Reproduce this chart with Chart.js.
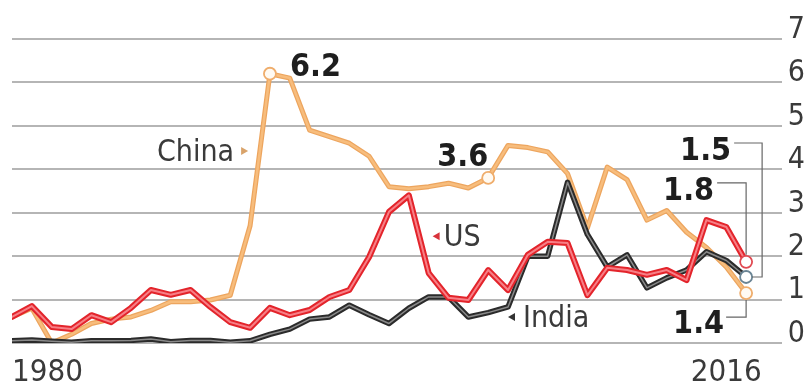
<!DOCTYPE html>
<html>
<head>
<meta charset="utf-8">
<script src="https://cdn.jsdelivr.net/npm/chart.js@4.4.0/dist/chart.umd.min.js"></script>
<style>
  html, body { margin: 0; padding: 0; background: #fff; }
  #wrap { width: 811px; height: 385px; position: relative; }
</style>
</head>
<body>
<div id="wrap"><canvas id="c"></canvas></div>
<script>
// data
const years = [1980, 1981, 1982, 1983, 1984, 1985, 1986, 1987, 1988, 1989,
  1990, 1991, 1992, 1993, 1994, 1995, 1996, 1997, 1998, 1999,
  2000, 2001, 2002, 2003, 2004, 2005, 2006, 2007, 2008, 2009,
  2010, 2011, 2012, 2013, 2014, 2015, 2016, 2017];
const china = [0.6, 0.8, 0.0, 0.2, 0.45, 0.55, 0.6, 0.75, 0.95, 0.95,
  0.99, 1.1, 2.7, 6.2, 6.1, 4.9, 4.75, 4.6, 4.3, 3.6,
  3.55, 3.6, 3.68, 3.57, 3.8, 4.55, 4.5, 4.4, 3.9, 2.65,
  4.05, 3.76, 2.83, 3.05, 2.55, 2.2, 1.75, 1.15];
const us = [0.6, 0.85, 0.37, 0.32, 0.64, 0.48, 0.81, 1.22, 1.11, 1.22,
  0.83, 0.48, 0.35, 0.81, 0.64, 0.76, 1.06, 1.22, 1.98, 3.02,
  3.4, 1.61, 1.04, 0.99, 1.68, 1.22, 2.03, 2.33, 2.3, 1.1,
  1.73, 1.68, 1.57, 1.68, 1.45, 2.83, 2.67, 1.87];
const india = [0.05, 0.07, 0.04, 0.02, 0.05, 0.05, 0.06, 0.09, 0.03, 0.06,
  0.06, 0.02, 0.05, 0.2, 0.32, 0.55, 0.6, 0.87, 0.65, 0.45,
  0.8, 1.06, 1.06, 0.6, 0.7, 0.83, 2.0, 2.0, 3.7, 2.5,
  1.75, 2.03, 1.27, 1.5, 1.68, 2.1, 1.9, 1.52];
const yTicks = [0, 1, 2, 3, 4, 5, 6, 7];
const xTickLabels = [1980, 2016];

// circled points and their callout texts
const chinaMarks = [13, 24, 37];
const usMarks = [37];
const indiaMarks = [37];
const calloutTexts = ['6.2', '3.6', '1.5', '1.8', '1.4'];

const COND = '"DejaVu Sans Condensed", "DejaVu Sans", sans-serif';
const pts = arr => years.map((y, i) => ({ x: y, y: arr[i] }));

function layer(data, color, width, order, marks, ptBorder, ptFill) {
  return {
    data: pts(data), borderColor: color, borderWidth: width, order: order,
    tension: 0, borderJoinStyle: 'round', borderCapStyle: 'round',
    pointRadius: marks ? (ctx => marks.includes(ctx.dataIndex) ? 6 : 0) : 0,
    pointBackgroundColor: ptFill || '#fff', pointBorderColor: ptBorder || color, pointBorderWidth: 1.8,
    pointHoverRadius: 0
  };
}

// text + bracket overlays
const overlay = {
  id: 'overlay',
  afterDraw(chart) {
    const ctx = chart.ctx, xs = chart.scales.x, ys = chart.scales.y, ca = chart.chartArea;
    const P = (i, arr) => ({ x: xs.getPixelForValue(years[i]), y: ys.getPixelForValue(arr[i]) });
    ctx.save();

    // x labels
    ctx.font = '31px ' + COND;
    ctx.fillStyle = '#3a3a3a';
    ctx.textBaseline = 'alphabetic';
    xTickLabels.forEach((yr, i) => {
      ctx.textAlign = i === 0 ? 'left' : 'center';
      ctx.fillText(String(yr), i === 0 ? ca.left : xs.getPixelForValue(yr), 381);
    });

    // series names with small arrows
    const tri = (x, y, dir, col) => {
      ctx.fillStyle = col;
      ctx.beginPath();
      ctx.moveTo(x, y);
      ctx.lineTo(x - dir * 7, y - 4);
      ctx.lineTo(x - dir * 7, y + 4);
      ctx.closePath();
      ctx.fill();
    };
    const lbl = (name, yr, v, dir, col, gap) => {
      const x = xs.getPixelForValue(yr), y = ys.getPixelForValue(v);
      tri(x, y, dir, col);
      ctx.fillStyle = '#3a3a3a';
      ctx.textAlign = dir > 0 ? 'right' : 'left';
      ctx.fillText(name, x - dir * gap, y + 10);
    };
    ctx.font = '30px ' + COND;
    lbl('China', 1991.9, 4.42, 1, '#d9a36a', 14);
    lbl('US', 2001.2, 2.46, -1, '#d8323a', 11);
    lbl('India', 2005.0, 0.6, -1, '#333', 15);

    // bold callouts
    ctx.font = 'bold 32px ' + COND;
    ctx.fillStyle = '#1e1e1e';
    const peak = P(13, china), mid = P(24, china);
    ctx.textAlign = 'left';
    ctx.fillText(calloutTexts[0], peak.x + 20, peak.y + 2);
    ctx.textAlign = 'right';
    ctx.fillText(calloutTexts[1], mid.x, mid.y - 12);

    const ei = P(37, india), eu = P(37, us), ec = P(37, china);
    ctx.fillText(calloutTexts[2], ei.x - 15, ei.y - 117);
    ctx.fillText(calloutTexts[3], eu.x - 32, eu.y - 62);
    ctx.fillText(calloutTexts[4], ec.x - 22, ec.y + 40);

    ctx.strokeStyle = '#666';
    ctx.lineWidth = 1.2;
    const path = p => {
      ctx.beginPath();
      ctx.moveTo(p[0][0], p[0][1]);
      p.slice(1).forEach(q => ctx.lineTo(q[0], q[1]));
      ctx.stroke();
    };
    path([[ei.x - 12, ei.y - 134], [ei.x + 16, ei.y - 134], [ei.x + 16, ei.y], [ei.x + 6, ei.y]]);
    path([[eu.x - 29, eu.y - 79], [eu.x, eu.y - 79], [eu.x, eu.y - 7]]);
    path([[ec.x - 20, ec.y + 24], [ec.x, ec.y + 24], [ec.x, ec.y + 7]]);
    ctx.restore();
  }
};

new Chart(document.getElementById('c'), {
  type: 'line',
  data: {
    datasets: [
      layer(us, '#f77f86', 2, 0, usMarks, '#e04a52'),
      layer(us, '#e3242b', 6, 1),
      layer(india, '#8a8a8a', 1.5, 2, indiaMarks, '#6a8494'),
      layer(india, '#2b2b2b', 5.5, 3),
      layer(china, '#f7bd7d', 2.5, 4, chinaMarks, '#efad6c', '#fffaf2'),
      layer(china, '#eda55e', 5, 5)
    ]
  },
  options: {
    responsive: true, maintainAspectRatio: false, animation: false,
    layout: { padding: { left: 12, top: 39, bottom: 42, right: 0 } },
    plugins: { legend: { display: false }, tooltip: { enabled: false } },
    scales: {
      x: { type: 'linear', min: 1980, max: 2018.8, display: false },
      y: {
        position: 'right', min: 0, max: 7,
        afterBuildTicks: s => { s.ticks = yTicks.map(v => ({ value: v })); },
        grid: { color: '#b5b5b5', lineWidth: 2, drawTicks: false },
        border: { display: false },
        ticks: { font: { family: COND, size: 30 }, color: '#3a3a3a', padding: 6, labelOffset: -9 }
      }
    }
  },
  plugins: [overlay]
});
</script>
</body>
</html>
